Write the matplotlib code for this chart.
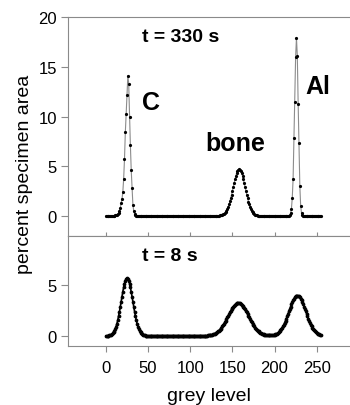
import numpy as np
import matplotlib
matplotlib.use("Agg")
import matplotlib.pyplot as plt

plt.rcParams['font.family'] = ['Liberation Sans', 'DejaVu Sans']

# percent specimen area per grey level (0..255), rows of 16
area_330s = [
    0, 0, 0, 0, 0, 0, 0, 0, 0, 0.05, 0.05, 0.1, 0.1, 0.15, 0.2, 0.3,
    0.5, 0.8, 1.3, 1.7, 2.4, 3.7, 5.7, 8.4, 10.3, 12.2, 14.1, 13.3, 10.0, 7.1, 4.6, 2.8,
    1.1, 0.5, 0.2, 0.1, 0.05, 0, 0, 0, 0, 0, 0, 0, 0, 0, 0, 0,
    0, 0, 0, 0, 0, 0, 0, 0, 0, 0, 0, 0, 0, 0, 0, 0,
    0, 0, 0, 0, 0, 0, 0, 0, 0, 0, 0, 0, 0, 0, 0, 0,
    0, 0, 0, 0, 0, 0, 0, 0, 0, 0, 0, 0, 0, 0, 0, 0,
    0, 0, 0, 0, 0, 0, 0, 0, 0, 0, 0, 0, 0, 0, 0, 0,
    0, 0, 0, 0, 0, 0, 0, 0, 0, 0, 0, 0, 0, 0, 0, 0,
    0.01, 0.01, 0.02, 0.02, 0.03, 0.04, 0.05, 0.06, 0.08, 0.11, 0.14, 0.18, 0.24, 0.32, 0.42, 0.56,
    0.73, 0.94, 1.18, 1.47, 1.80, 2.16, 2.54, 2.93, 3.32, 3.69, 4.03, 4.31, 4.52, 4.65, 4.70, 4.65,
    4.52, 4.31, 4.03, 3.69, 3.32, 2.93, 2.54, 2.15, 1.79, 1.46, 1.17, 0.92, 0.71, 0.54, 0.40, 0.29,
    0.21, 0.14, 0.10, 0.06, 0.04, 0.02, 0, 0, 0, 0, 0, 0, 0, 0, 0, 0,
    0, 0, 0, 0, 0, 0, 0, 0, 0, 0, 0, 0, 0, 0, 0, 0,
    0, 0, 0, 0, 0, 0, 0, 0, 0, 0.05, 0.1, 0.3, 0.7, 1.8, 3.7, 7.8,
    11.5, 16.0, 17.9, 16.1, 11.3, 7.3, 3.0, 1.0, 0.3, 0.1, 0.05, 0, 0, 0, 0, 0,
    0, 0, 0, 0, 0, 0, 0, 0, 0, 0, 0, 0, 0, 0, 0, 0,
]

area_8s = [
    0, 0, 0, 0.03, 0.05, 0.08, 0.11, 0.17, 0.25, 0.36, 0.50, 0.68, 0.91, 1.19, 1.53, 1.92,
    2.36, 2.83, 3.33, 3.84, 4.32, 4.76, 5.13, 5.42, 5.60, 5.66, 5.60, 5.42, 5.13, 4.76, 4.32, 3.84,
    3.33, 2.83, 2.36, 1.92, 1.53, 1.19, 0.91, 0.68, 0.50, 0.36, 0.25, 0.17, 0.11, 0.08, 0.05, 0.03,
    0, 0, 0, 0, 0, 0, 0, 0, 0, 0, 0, 0, 0, 0, 0, 0,
    0, 0, 0, 0, 0, 0, 0, 0, 0, 0, 0, 0, 0, 0, 0, 0,
    0, 0, 0, 0, 0, 0, 0, 0, 0, 0, 0, 0, 0, 0, 0, 0,
    0, 0, 0, 0, 0, 0, 0, 0, 0, 0, 0, 0, 0, 0, 0, 0,
    0, 0, 0, 0, 0, 0, 0, 0, 0, 0.04, 0.05, 0.06, 0.07, 0.09, 0.11, 0.14,
    0.17, 0.21, 0.26, 0.31, 0.37, 0.44, 0.52, 0.60, 0.70, 0.81, 0.92, 1.05, 1.19, 1.33, 1.48, 1.64,
    1.80, 1.97, 2.13, 2.29, 2.44, 2.59, 2.73, 2.86, 2.97, 3.06, 3.14, 3.20, 3.23, 3.24, 3.23, 3.20,
    3.14, 3.06, 2.97, 2.86, 2.73, 2.59, 2.44, 2.29, 2.13, 1.97, 1.80, 1.64, 1.48, 1.33, 1.19, 1.05,
    0.92, 0.81, 0.70, 0.60, 0.52, 0.44, 0.37, 0.31, 0.26, 0.21, 0.17, 0.14, 0.11, 0.09, 0.07, 0.06,
    0.05, 0.04, 0.04, 0.04, 0.04, 0.04, 0.06, 0.08, 0.10, 0.13, 0.17, 0.22, 0.28, 0.35, 0.44, 0.53,
    0.65, 0.78, 0.93, 1.10, 1.28, 1.48, 1.70, 1.92, 2.16, 2.40, 2.63, 2.87, 3.09, 3.30, 3.49, 3.65,
    3.78, 3.87, 3.93, 3.95, 3.93, 3.87, 3.78, 3.65, 3.49, 3.30, 3.09, 2.87, 2.63, 2.40, 2.16, 1.92,
    1.70, 1.48, 1.28, 1.10, 0.93, 0.78, 0.65, 0.53, 0.44, 0.35, 0.28, 0.22, 0.17, 0.13, 0.10, 0.08,
]

grey = np.arange(len(area_330s))
x_ticks = [0, 50, 100, 150, 200, 250]

W, H = 350, 406
fig = plt.figure(figsize=(W / 100, H / 100), dpi=100)
left = 68 / W
ax_top = fig.add_axes([left, (H - 237) / H, 1 - left, 219 / H])
ax_bot = fig.add_axes([left, (H - 347) / H, 1 - left, 110 / H])

spine_col = '#8a8a8a'
for ax in (ax_top, ax_bot):
    ax.set_xlim(-45, 289.5)
    ax.set_xticks(x_ticks)
    for s in ('left', 'top', 'bottom'):
        ax.spines[s].set_color(spine_col)
        ax.spines[s].set_linewidth(0.8)
    ax.spines['right'].set_visible(False)
    ax.tick_params(axis='y', direction='out', length=5, width=0.8, color=spine_col,
                   labelsize=12, pad=3)

# t = 330 s
ax_top.plot(grey, area_330s, color='#8c8c8c', lw=0.8, marker='o', ms=2.3,
            mfc='black', mec='black', mew=0)
ax_top.set_ylim(-2, 20)
ax_top.set_yticks([0, 5, 10, 15, 20])
ax_top.tick_params(axis='x', direction='in', length=3, width=0.8, color=spine_col,
                   labelbottom=False)
ax_top.text(88, 18.0, 't = 330 s', fontsize=14, fontweight='bold', ha='center', va='center')
ax_top.text(54, 11.5, 'C', fontsize=18, fontweight='bold', ha='center', va='center')
ax_top.text(154, 7.3, 'bone', fontsize=18, fontweight='bold', ha='center', va='center')
ax_top.text(251, 13.1, 'Al', fontsize=18, fontweight='bold', ha='center', va='center')

# t = 8 s
ax_bot.plot(grey, area_8s, color='black', lw=1.2, marker='o', ms=2.7,
            mfc='black', mec='black', mew=0)
ax_bot.set_ylim(-1, 9.8)
ax_bot.set_yticks([0, 5])
ax_bot.tick_params(axis='x', direction='out', length=4, width=0.8, color=spine_col,
                   labelsize=12, pad=6)
ax_bot.text(76, 7.9, 't = 8 s', fontsize=14, fontweight='bold', ha='center', va='center')
ax_bot.set_xlabel('grey level', fontsize=14, labelpad=9)

fig.text(25 / W, 1 - 174 / H, 'percent specimen area', rotation=90, fontsize=14,
         ha='center', va='center')

fig.savefig('out.png', dpi=100)
